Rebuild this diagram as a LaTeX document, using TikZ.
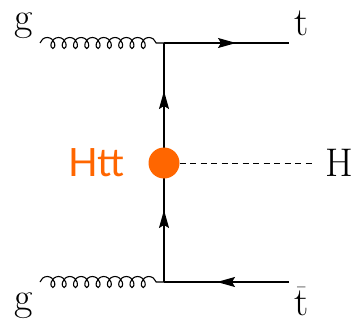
\documentclass[tikz,border=0pt]{standalone}
\usepackage{fontspec}
\newfontfamily\vertexfont{Lato}
\usetikzlibrary{arrows.meta, positioning, decorations.pathmorphing, decorations.markings}
\definecolor{vertexorange}{HTML}{FF6600}
\tikzstyle{fermion} = [line width=1.3pt, postaction={decorate},
  decoration={markings, mark=at position 72pt with {\arrow{Stealth[length=18pt, width=10pt, inset=3pt]}}}]
\tikzstyle{gluon} = [line width=1.1pt, decorate, decoration={coil, amplitude=5.5pt, segment length=11.3pt, aspect=0.8}]
\tikzstyle{scalar} = [line width=1pt, dash pattern=on 6pt off 4.5pt]

\begin{document}
\begin{tikzpicture}[x=1pt, y=-1pt,
    every node/.style={inner sep=0pt, font=\fontsize{40}{48}\selectfont},
    blob/.style={circle, fill=vertexorange, minimum size=31pt}
  ]
    \useasboundingbox (0,0) rectangle (353,321);
    % vertices and free ends
    \coordinate (vt) at (164,43);
    \coordinate (vb) at (164,282);
    \coordinate (gt) at (40,43);
    \coordinate (gb) at (40,282);
    \coordinate (tt) at (289,43);
    \coordinate (tb) at (289,282);
    \coordinate (hc) at (164,163);
    \coordinate (hend) at (315,163);

    \draw[gluon] (gt) -- (vt);
    \draw[gluon] (gb) -- (vb);
    \draw[fermion] (vt) -- (tt);
    \draw[fermion] (tb) -- (vb);
    \draw[fermion] (vb) -- (hc);
    \draw[fermion] (hc) -- (vt);

    \node[blob] (htt) at (hc) {};
    \draw[scalar] (htt) -- (hend);

    % labels
    \node[right=10pt of hend] (hlab) {H};
    \node[left=24pt of htt, text=vertexorange, font=\vertexfont\fontsize{39}{46}\selectfont] (httlab) {Htt};
    \node[anchor=base west] (glabt) at (14,31) {g};
    \node[anchor=base west] (glabb) at (14,310) {g};
    \node[anchor=base west] (tlab) at (294,36) {t};
    \node[anchor=base west] (tbarlab) at (294,315) {$\bar{\mathrm{t}}$};
  \end{tikzpicture}
\end{document}
